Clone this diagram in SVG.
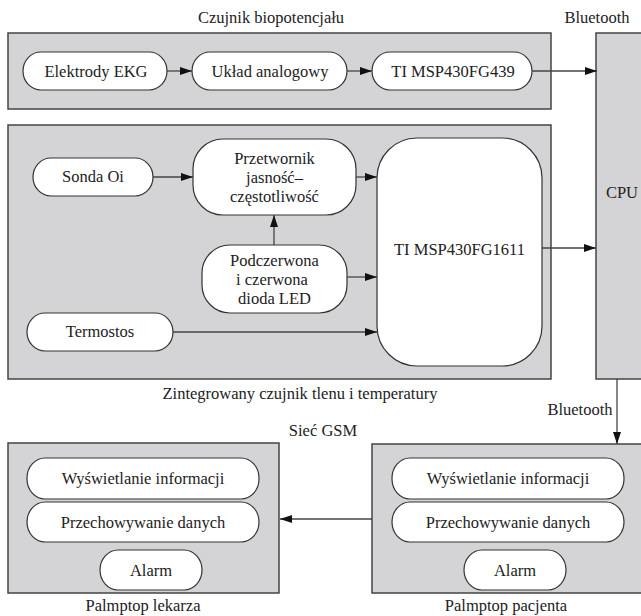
<svg xmlns="http://www.w3.org/2000/svg" width="641" height="616" viewBox="0 0 641 616" font-family="'Liberation Serif', 'DejaVu Serif', serif" font-size="16.5">
<defs>
<style>
text{font-family:'Liberation Serif','DejaVu Serif',serif;font-size:16.5px;fill:#222;text-anchor:middle}
.box{fill:#d4d4d6;stroke:#444;stroke-width:1.5}
.pill{fill:#fff;stroke:#333;stroke-width:1.2}
.con{stroke:#444;stroke-width:1.3;fill:none;marker-end:url(#ah)}
</style>
<marker id="ah" viewBox="0 0 12 8" refX="12" refY="4" markerWidth="12" markerHeight="8" markerUnits="userSpaceOnUse" orient="auto">
<path d="M0,0 L12,4 L0,8 Z" fill="#111"/>
</marker>
</defs>
<rect width="641" height="616" fill="#fff"/>

<g id="sensor-bio">
<rect class="box" x="8" y="33" width="543" height="76"/>
<text x="271" y="23">Czujnik biopotencjału</text>
</g>
<g id="sensor-oxy">
<rect class="box" x="8" y="125" width="543" height="254"/>
<text x="300" y="399">Zintegrowany czujnik tlenu i temperatury</text>
</g>
<g id="cpu">
<rect class="box" x="596" y="33" width="60" height="346"/>
<text x="622" y="198">CPU</text>
</g>
<g id="palm-doc">
<rect class="box" x="8" y="443" width="271" height="150"/>
<text x="143" y="611">Palmptop lekarza</text>
</g>
<g id="palm-pat">
<rect class="box" x="372" y="444" width="280" height="149"/>
<text x="506" y="611">Palmptop pacjenta</text>
</g>

<g id="ekg"><rect class="pill" x="23" y="52" width="144" height="38" rx="18" ry="19"/><text x="96" y="77">Elektrody EKG</text></g>
<g id="analog"><rect class="pill" x="192" y="52" width="155" height="38" rx="18" ry="19"/><text x="270" y="77">Układ analogowy</text></g>
<g id="msp439"><rect class="pill" x="372" y="52" width="160" height="38" rx="18" ry="19"/><text x="453" y="77">TI MSP430FG439</text></g>

<g id="sonda"><rect class="pill" x="33" y="158" width="120" height="38" rx="18" ry="19"/><text x="93" y="182">Sonda Oi</text></g>
<g id="przetwornik"><rect class="pill" x="193" y="139" width="163" height="76" rx="30" ry="30"/>
<text x="274.5" y="164">Przetwornik</text><text x="274.5" y="183">jasność–</text><text x="274.5" y="202">częstotliwość</text></g>
<g id="led"><rect class="pill" x="202" y="245" width="145" height="68" rx="28" ry="28"/>
<text x="274.5" y="266">Podczerwona</text><text x="272" y="285">i czerwona</text><text x="274.5" y="304">dioda LED</text></g>
<g id="termostos"><rect class="pill" x="27" y="313" width="146" height="38" rx="18" ry="19"/><text x="100" y="337">Termostos</text></g>
<g id="msp1611"><rect class="pill" x="377" y="138" width="165" height="228" rx="40" ry="40"/><text x="459.5" y="255">TI MSP430FG1611</text></g>

<g id="doc-disp"><rect class="pill" x="27" y="458" width="232" height="41" rx="18" ry="20"/><text x="143" y="484">Wyświetlanie informacji</text></g>
<g id="doc-store"><rect class="pill" x="27" y="502" width="232" height="40" rx="18" ry="20"/><text x="143" y="527.5">Przechowywanie danych</text></g>
<g id="doc-alarm"><rect class="pill" x="100" y="550" width="102" height="40" rx="18" ry="20"/><text x="151" y="575.5">Alarm</text></g>

<g id="pat-disp"><rect class="pill" x="392" y="458" width="232" height="41" rx="18" ry="20"/><text x="508" y="484">Wyświetlanie informacji</text></g>
<g id="pat-store"><rect class="pill" x="392" y="502" width="232" height="40" rx="18" ry="20"/><text x="508" y="527.5">Przechowywanie danych</text></g>
<g id="pat-alarm"><rect class="pill" x="464" y="550" width="102" height="40" rx="18" ry="20"/><text x="515" y="575.5">Alarm</text></g>

<g id="connectors">
<line class="con" x1="167" y1="71" x2="192" y2="71"/>
<line class="con" x1="347" y1="71" x2="372" y2="71"/>
<line class="con" x1="532" y1="71" x2="597" y2="71"/>
<line class="con" x1="153" y1="177" x2="193" y2="177"/>
<line class="con" x1="356" y1="177" x2="377" y2="177"/>
<line class="con" x1="274" y1="245" x2="274" y2="215"/>
<line class="con" x1="347" y1="277" x2="377" y2="277"/>
<line class="con" x1="173" y1="332" x2="377" y2="332"/>
<line class="con" x1="542" y1="248" x2="596" y2="248"/>
<line class="con" x1="617" y1="379" x2="617" y2="444"/>
<line class="con" x1="372" y1="519" x2="280" y2="519"/>
<text x="597" y="23">Bluetooth</text>
<text x="580" y="415">Bluetooth</text>
<text x="323" y="436">Sieć GSM</text>
</g>
</svg>
